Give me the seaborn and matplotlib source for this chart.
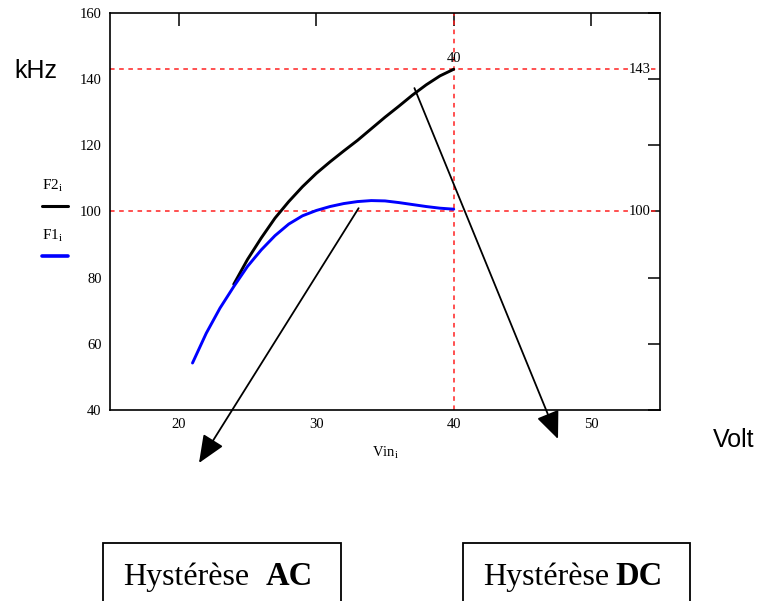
import matplotlib
matplotlib.use("Agg")
import matplotlib.pyplot as plt
from matplotlib.patches import Rectangle
import numpy as np
import pandas as pd
import seaborn as sns

# ---- data ----
vin_f1 = [21, 22, 23, 24, 25, 26, 27, 28, 29, 30, 31, 32, 33, 34, 35, 36, 37, 38, 39, 40]
f1 = [54.2, 63.2, 70.8, 77.3, 83.4, 88.4, 92.7, 96.2, 98.7, 100.3, 101.5, 102.4, 103.0, 103.3,
      103.2, 102.7, 102.1, 101.5, 101.0, 100.7]
vin_f2 = [24, 25, 26, 27, 28, 29, 30, 31, 32, 33, 34, 35, 36, 37, 38, 39, 40]
f2 = [78.0, 85.5, 92.0, 98.0, 103.0, 107.5, 111.5, 115.0, 118.3, 121.5, 125.0, 128.5, 131.8,
      135.2, 138.3, 141.0, 143.0]
marker_x = 40
marker_y = [143, 100]
xticks = [20, 30, 40, 50]
yticks = [40, 60, 80, 100, 120, 140, 160]

sns.set_style("white")
plt.rcParams['font.family'] = ['Liberation Serif', 'DejaVu Serif']
plt.rcParams['mathtext.fontset'] = 'custom'
plt.rcParams['mathtext.rm'] = 'Liberation Serif'
for k in ['text.color', 'axes.labelcolor', 'xtick.color', 'ytick.color', 'axes.edgecolor']:
    plt.rcParams[k] = 'black'

W, H = 762, 601
fig = plt.figure(figsize=(W / 100, H / 100), dpi=100)
ax = fig.add_axes([110 / W, 1 - 410 / H, 550 / W, 397 / H])

df1 = pd.DataFrame({"Vin": vin_f1, "F": f1})
df2 = pd.DataFrame({"Vin": vin_f2, "F": f2})
sns.lineplot(data=df2, x="Vin", y="F", ax=ax, color="black", lw=2.1, sort=False, zorder=3)
sns.lineplot(data=df1, x="Vin", y="F", ax=ax, color="#0000ff", lw=2.1, sort=False, zorder=4)

dash = (0, (3, 3))
for yv in marker_y:
    ax.axhline(yv, color="#ff2020", lw=1.1, ls=dash, zorder=2)
ax.axvline(marker_x, color="#ff2020", lw=1.1, ls=dash, zorder=2)

ax.set_xlim(15, 55)
ax.set_ylim(40, 160)
ax.set_xticks(xticks)
ax.set_yticks(yticks)
ax.tick_params(direction="in", length=9, width=1.1, colors="black",
               top=True, right=True, labelsize=10.5, pad=6)
for s in ax.spines.values():
    s.set_visible(True)
    s.set_color("black")
    s.set_linewidth(1.2)
ax.set_xlabel(r"$\mathregular{Vin_i}$", fontsize=10.5, labelpad=10, color="black")
ax.set_ylabel("")

# value labels on marker lines
ax.text(marker_x, 144.3, str(marker_x), ha="center", va="bottom", fontsize=10.5)
for yv in marker_y:
    ax.text(54.3, yv, str(yv), ha="right", va="center", fontsize=10.5,
            bbox=dict(facecolor="white", edgecolor="none", pad=0.5), zorder=5)

# legend-like labels on the left (figure pixels)
tf = fig.transFigure
def fp(x, y):
    return (x / W, 1 - y / H)

fig.text(*fp(42, 190), r"$\mathregular{F2_i}$", fontsize=11, ha="left", va="baseline")
fig.add_artist(plt.Line2D([42 / W, 68 / W], [1 - 206 / H, 1 - 206 / H], color="black", lw=2.2))
fig.text(*fp(42, 240), r"$\mathregular{F1_i}$", fontsize=11, ha="left", va="baseline")
fig.add_artist(plt.Line2D([42 / W, 68 / W], [1 - 256 / H, 1 - 256 / H], color="#0000ff", lw=2.6))

# axis unit labels
fig.text(*fp(36, 71), "kHz", fontsize=18, family="Liberation Sans", ha="center", va="center")
fig.text(*fp(734, 440), "Volt", fontsize=18, family="Liberation Sans", ha="center", va="center")

# arrows
arrow_kw = dict(arrowstyle="-|>,head_length=0.85,head_width=0.36", color="black",
                lw=1.3, shrinkA=0, shrinkB=0, mutation_scale=20)
ax.annotate("", xy=(199, H - 463), xycoords="figure pixels",
            xytext=(33.08, 101.0), textcoords="data", arrowprops=arrow_kw,
            annotation_clip=False, zorder=6)
ax.annotate("", xy=(558, H - 439), xycoords="figure pixels",
            xytext=(37.14, 137.3), textcoords="data", arrowprops=arrow_kw,
            annotation_clip=False, zorder=6)

# boxes at the bottom
for x0, x1 in [(102.5, 340.5), (462.5, 689.5)]:
    fig.add_artist(Rectangle((x0 / W, 1 - 640 / H), (x1 - x0) / W, (640 - 542.5) / H,
                             transform=tf, fill=False, edgecolor="black", lw=1.3))
fig.text(*fp(123, 585), "Hystérèse", fontsize=23, ha="left", va="baseline")
fig.text(*fp(266, 585), "AC", fontsize=23.5, weight="bold", ha="left", va="baseline")
fig.text(*fp(483, 585), "Hystérèse", fontsize=23, ha="left", va="baseline")
fig.text(*fp(615, 585), "DC", fontsize=23.5, weight="bold", ha="left", va="baseline")

fig.savefig("out.png", dpi=100)
